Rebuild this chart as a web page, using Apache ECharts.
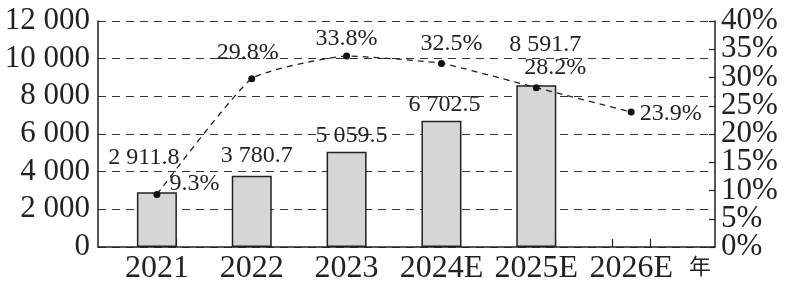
<!DOCTYPE html>
<html>
<head>
<meta charset="utf-8">
<script src="https://cdn.jsdelivr.net/npm/echarts@6/dist/echarts.min.js"></script>
<style>
  html, body { margin: 0; padding: 0; background: #fff; }
  #chart { width: 791px; height: 287px; }
</style>
</head>
<body>
<div id="chart"></div>
<script>
var years = ['2021', '2022', '2023', '2024E', '2025E', '2026E'];
var revenue = [2911.8, 3780.7, 5059.5, 6702.5, 8591.7, null];
var growth = [9.3, 29.8, 33.8, 32.5, 28.2, 23.9];
var leftTicks = { min: 0, max: 12000, step: 2000 };
var rightTicks = { min: 0, max: 40, step: 5 };

var serif = 'Liberation Serif';

// thousands separated by a space, like "12 000" / "2 911.8"
function fmt(v, dec) {
    var s = v.toFixed(dec);
    var parts = s.split('.');
    var intPart = parts[0].replace(/\B(?=(\d{3})+(?!\d))/g, ' ');
    return parts.length > 1 ? intPart + '.' + parts[1] : intPart;
}

// small nudges for labels so they sit like the printed figure
var barLabelOffset = [[-13, -16], [5, -2], [5, 2], [3, 2], [9, -22], [0, 0]];
var lineLabelPos = ['right', 'top', 'top', 'top', 'top', 'right'];
var lineLabelOffset = [[4, -11], [-4, -5], [0, 3], [10, 1], [19, 1], [0, 2]];

var idx = years.map(function (y, i) { return i; });

var barData = revenue.map(function (v, i) {
    if (v == null) return null;
    return {
        value: [i, v],
        label: { offset: barLabelOffset[i] }
    };
}).filter(function (d) { return d; });

var lineData = growth.map(function (v, i) {
    return {
        value: [i, v],
        label: { position: lineLabelPos[i], offset: lineLabelOffset[i] }
    };
});

var edgeTicks = [];
idx.forEach(function (i) { edgeTicks.push(i - 0.2, i + 0.2); });

// right axis labels are split over two overlaid axes so none get auto-hidden
var rightEven = [], rightOdd = [];
for (var t = rightTicks.min, k = 0; t <= rightTicks.max; t += rightTicks.step, k++) {
    (k % 2 === 0 ? rightEven : rightOdd).push(t);
}

var rightLabel = {
    formatter: '{value}%',
    fontFamily: serif, fontSize: 31, color: '#222', margin: 6
};

var chart = echarts.init(document.getElementById('chart'));
var option = {
    animation: false,
    backgroundColor: '#fff',
    grid: { left: 98, right: 76, top: 21, bottom: 40, outerBoundsMode: 'none' },
    xAxis: {
        type: 'value',
        min: -0.621,
        max: 5.884,
        name: '年',
        nameLocation: 'end',
        nameGap: -26,
        nameTextStyle: {
            fontFamily: 'Noto Sans CJK SC', fontSize: 22, color: '#222',
            verticalAlign: 'top', padding: [8, 0, 0, 0]
        },
        axisLine: { show: true, onZero: false, lineStyle: { color: '#222', width: 1.5 } },
        axisTick: { show: true, inside: true, length: 8, customValues: edgeTicks,
            lineStyle: { color: '#222', width: 1.2 } },
        axisLabel: {
            customValues: idx,
            formatter: function (v) { return years[Math.round(v)]; },
            fontFamily: serif, fontSize: 32, color: '#222', margin: 6
        },
        splitLine: { show: false }
    },
    yAxis: [{
        type: 'value',
        min: leftTicks.min,
        max: leftTicks.max,
        interval: leftTicks.step,
        axisLine: { show: true, onZero: false, lineStyle: { color: '#222', width: 1.5 } },
        axisTick: { show: false },
        axisLabel: {
            formatter: function (v) { return fmt(v, 0); },
            showMinLabel: true, showMaxLabel: true,
            fontFamily: serif, fontSize: 31, color: '#222', margin: 8
        },
        splitLine: { show: true, lineStyle: { color: '#333', width: 1.2, type: [8, 6] } }
    }, {
        type: 'value',
        position: 'right',
        min: rightTicks.min,
        max: rightTicks.max,
        interval: rightTicks.step,
        axisLine: { show: true, onZero: false, lineStyle: { color: '#222', width: 1.5 } },
        axisTick: { show: true, inside: true, length: 6, lineStyle: { color: '#222', width: 1.2 } },
        axisLabel: Object.assign({ customValues: rightEven }, rightLabel),
        splitLine: { show: false }
    }, {
        type: 'value',
        position: 'right',
        min: rightTicks.min,
        max: rightTicks.max,
        interval: rightTicks.step,
        axisLine: { show: false, onZero: false },
        axisTick: { show: false },
        axisLabel: Object.assign({ customValues: rightOdd }, rightLabel),
        splitLine: { show: false }
    }],
    series: [{
        type: 'bar',
        yAxisIndex: 0,
        barWidth: 40,
        data: barData,
        itemStyle: { color: '#d6d6d6', borderColor: '#222', borderWidth: 1.5 },
        label: {
            show: true,
            position: 'top',
            distance: 6,
            formatter: function (p) { return fmt(p.value[1], 1); },
            fontFamily: serif, fontSize: 24, color: '#222'
        },
        z: 2
    }, {
        type: 'line',
        yAxisIndex: 1,
        smooth: 0.15,
        data: lineData,
        symbol: 'circle',
        symbolSize: 7,
        itemStyle: { color: '#111' },
        lineStyle: { color: '#222', width: 1.3, type: [6, 5] },
        label: {
            show: true,
            distance: 5,
            formatter: function (p) { return p.value[1].toFixed(1) + '%'; },
            fontFamily: serif, fontSize: 24, color: '#222'
        },
        z: 3
    }]
};
chart.setOption(option);
</script>
</body>
</html>
